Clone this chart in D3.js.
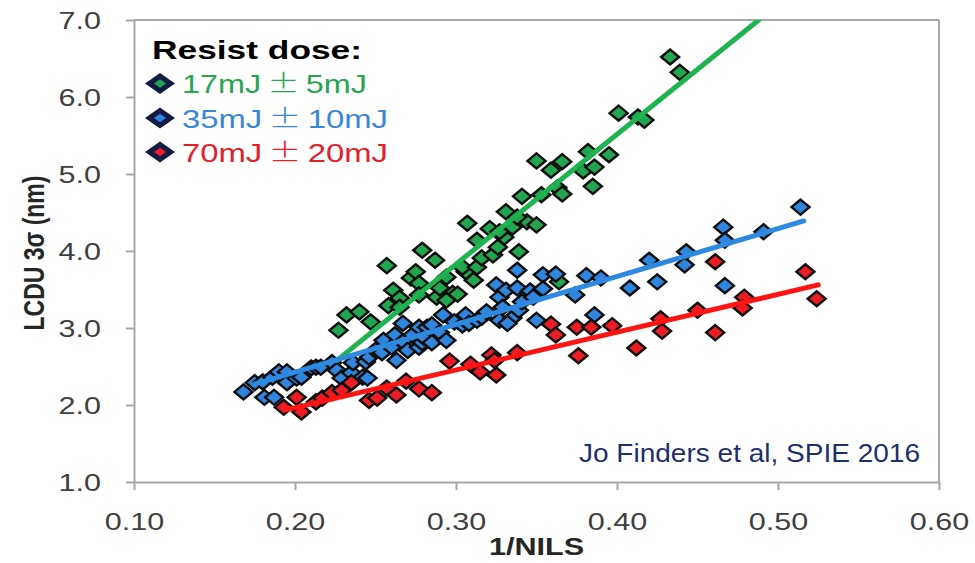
<!DOCTYPE html>
<html>
<head>
<meta charset="utf-8">
<script src="https://cdn.jsdelivr.net/npm/d3@7"></script>
<style>
  html, body { margin: 0; padding: 0; background: #fff; }
  svg { display: block; }
</style>
</head>
<body>
<svg id="chart" width="975" height="563"></svg>
<script>
// ---------- DATA ----------
const xTicks = [0.10, 0.20, 0.30, 0.40, 0.50, 0.60];
const yTicks = [1.0, 2.0, 3.0, 4.0, 5.0, 6.0, 7.0];
const seriesNames = ["17mJ", "35mJ", "70mJ"];
const seriesTols = ["5mJ", "10mJ", "20mJ"];

// [1/NILS, LCDU 3σ (nm)]
const green17 = [
  [0.227,2.97],[0.232,3.17],[0.240,3.21],[0.247,3.08],[0.257,3.81],[0.261,3.49],
  [0.265,3.39],[0.258,3.29],[0.265,3.27],[0.272,3.65],[0.279,4.01],[0.287,3.88],
  [0.275,3.73],[0.277,3.58],[0.277,3.43],[0.288,3.40],[0.290,3.52],[0.294,3.66],
  [0.298,3.45],[0.301,3.44],[0.306,3.73],[0.304,3.79],[0.313,3.79],[0.316,3.91],
  [0.323,3.95],[0.311,3.62],[0.294,3.36],[0.307,4.36],[0.313,4.14],[0.321,4.29],
  [0.326,4.05],[0.331,4.51],[0.335,4.31],[0.330,4.18],[0.339,3.99],[0.344,4.38],
  [0.350,4.34],[0.338,4.44],[0.341,4.71],[0.353,4.73],[0.363,4.82],[0.366,4.74],
  [0.350,5.17],[0.359,5.05],[0.366,5.16],[0.379,5.04],[0.382,5.29],[0.386,5.09],
  [0.385,4.84],[0.395,5.25],[0.401,5.79],[0.413,5.74],[0.417,5.70],[0.433,6.52],
  [0.439,6.32],[0.364,3.60],[0.327,4.25]
];
const blue35 = [
  [0.168,2.17],[0.175,2.29],[0.180,2.30],[0.181,2.10],[0.187,2.10],[0.186,2.36],
  [0.190,2.43],[0.195,2.43],[0.195,2.29],[0.201,2.35],[0.204,2.36],[0.210,2.48],
  [0.213,2.49],[0.216,2.49],[0.223,2.55],[0.226,2.45],[0.229,2.35],[0.235,2.42],
  [0.236,2.55],[0.242,2.36],[0.244,2.56],[0.245,2.35],[0.246,2.62],[0.250,2.71],
  [0.254,2.68],[0.255,2.84],[0.260,2.75],[0.262,2.91],[0.263,2.58],[0.267,3.06],
  [0.267,2.82],[0.270,2.71],[0.273,2.91],[0.277,3.01],[0.277,2.75],[0.279,2.81],
  [0.280,2.88],[0.282,3.01],[0.285,2.81],[0.285,3.04],[0.290,2.94],[0.292,3.17],
  [0.294,2.84],[0.299,3.08],[0.304,3.04],[0.306,3.17],[0.308,3.06],[0.313,3.10],
  [0.316,3.14],[0.319,3.21],[0.325,3.56],[0.327,3.40],[0.327,3.10],[0.329,3.27],
  [0.331,3.49],[0.335,3.13],[0.338,3.75],[0.338,3.52],[0.339,3.23],[0.341,3.34],
  [0.346,3.48],[0.348,3.40],[0.350,3.10],[0.354,3.69],[0.354,3.51],[0.362,3.70],
  [0.374,3.43],[0.381,3.68],[0.386,3.17],[0.390,3.65],[0.408,3.52],[0.420,3.88],
  [0.425,3.60],[0.442,3.82],[0.443,3.99],[0.466,4.31],[0.467,4.14],[0.467,3.55],
  [0.491,4.25],[0.514,4.57],[0.332,3.06]
];
const red70 = [
  [0.193,1.97],[0.201,2.10],[0.204,1.91],[0.213,2.04],[0.217,2.09],[0.223,2.16],
  [0.229,2.19],[0.235,2.29],[0.246,2.06],[0.251,2.09],[0.257,2.22],[0.263,2.13],
  [0.269,2.31],[0.277,2.21],[0.285,2.16],[0.296,2.57],[0.309,2.53],[0.315,2.43],
  [0.322,2.65],[0.325,2.39],[0.338,2.68],[0.359,3.05],[0.362,2.91],[0.375,3.01],
  [0.384,3.01],[0.376,2.64],[0.397,3.03],[0.412,2.74],[0.427,3.12],[0.428,2.96],
  [0.450,3.23],[0.461,3.86],[0.461,2.94],[0.479,3.40],[0.478,3.26],[0.517,3.73],
  [0.524,3.38],[0.324,2.58]
];
// linear fit lines (end points)
const greenFit = [[0.226,2.58],[0.488,7.0]];
const blueFit  = [[0.175,2.27],[0.516,4.39]];
const redFit   = [[0.195,1.94],[0.525,3.56]];

// ---------- STYLE ----------
const M = { left: 134, right: 939, top: 20, bottom: 482 };
const markerFill = ["#22a54f", "#2f86dc", "#ec1c24"];
const lineColor  = ["#1fb350", "#2e8ae0", "#ff1414"];
const textColor  = ["#27a550", "#3c86d8", "#e3202a"];
const axisGray = "#a8a8a8";
const SX = 1.33; // horizontal stretch of the reference's typography

const svg = d3.select("#chart");
const x = d3.scaleLinear().domain([0.1, 0.6]).range([M.left, M.right]);
const y = d3.scaleLinear().domain([1, 7]).range([M.bottom, M.top]);

// plot frame (top & right)
svg.append("line").attr("x1", M.left).attr("x2", M.right).attr("y1", M.top).attr("y2", M.top)
  .attr("stroke", axisGray).attr("stroke-width", 2);
svg.append("line").attr("x1", M.right).attr("x2", M.right).attr("y1", M.top).attr("y2", M.bottom)
  .attr("stroke", axisGray).attr("stroke-width", 2);

// axes
const gx = svg.append("g").attr("transform", `translate(0,${M.bottom})`)
  .call(d3.axisBottom(x).tickValues(xTicks).tickFormat(d3.format(".2f")).tickSize(8).tickSizeOuter(0));
const gy = svg.append("g").attr("transform", `translate(${M.left},0)`)
  .call(d3.axisLeft(y).tickValues(yTicks).tickFormat(d3.format(".1f")).tickSize(8).tickSizeOuter(0));
[gx, gy].forEach(g => {
  g.select(".domain").attr("stroke", axisGray).attr("stroke-width", 2);
  g.selectAll(".tick line").attr("stroke", axisGray).attr("stroke-width", 2);
  g.selectAll(".tick text").attr("fill", "#3f3f3f")
    .style("font-family", "'Liberation Sans', Arial, sans-serif").style("font-size", "23px");
});
gx.selectAll(".tick text").attr("y", 0).attr("dy", 0)
  .attr("transform", `translate(0,48) scale(${SX},1)`);
gy.selectAll(".tick text").attr("x", 0).attr("dy", "0.36em")
  .attr("transform", `translate(-33,0) scale(${SX},1)`);

// axis titles
svg.append("text").text("1/NILS")
  .attr("transform", `translate(${(M.left + M.right) / 2},555) scale(${SX},1)`)
  .attr("text-anchor", "middle").attr("fill", "#262626")
  .style("font-family", "'Liberation Sans', Arial, sans-serif").style("font-weight", "bold").style("font-size", "23px");
svg.append("text").text("LCDU 3σ (nm)")
  .attr("transform", `translate(44,253) rotate(-90) scale(1,1.3)`)
  .attr("text-anchor", "middle").attr("fill", "#262626")
  .style("font-family", "'Liberation Sans', Arial, sans-serif").style("font-weight", "bold").style("font-size", "23px");

// markers
const hw = 9, hh = 7.5;
const diamond = (w, h) => `M0,${-h}L${w},0L0,${h}L${-w},0Z`;
const allSeries = [green17, blue35, red70];
allSeries.forEach((data, i) => {
  svg.append("g").selectAll("path").data(data).join("path")
    .attr("d", diamond(hw, hh))
    .attr("transform", d => `translate(${x(d[0])},${y(d[1])})`)
    .attr("fill", markerFill[i]).attr("stroke", "#0d0d0d").attr("stroke-width", 2.4)
    .attr("stroke-linejoin", "miter");
});

// fit lines (clipped to plot)
svg.append("clipPath").attr("id", "plotclip").append("rect")
  .attr("x", M.left).attr("y", M.top).attr("width", M.right - M.left).attr("height", M.bottom - M.top);
const line = d3.line().x(d => x(d[0])).y(d => y(d[1]));
[greenFit, blueFit, redFit].forEach((f, i) => {
  svg.append("path").attr("d", line(f)).attr("clip-path", "url(#plotclip)")
    .attr("fill", "none").attr("stroke", lineColor[i]).attr("stroke-width", 5).attr("stroke-linecap", "round");
});

// legend
svg.append("text").text("Resist dose:")
  .attr("x", 152).attr("y", 59).attr("textLength", 210).attr("lengthAdjust", "spacingAndGlyphs")
  .attr("fill", "#000")
  .style("font-family", "'Liberation Sans', Arial, sans-serif").style("font-weight", "bold").style("font-size", "26px");
const legY = [83.5, 118, 152];
const legLen = [185, 206, 206];
seriesNames.forEach((name, i) => {
  const g = svg.append("g").attr("transform", `translate(160,${legY[i]})`);
  g.append("path").attr("d", diamond(15, 10.5)).attr("fill", "#131a44");
  g.append("path").attr("d", diamond(6, 4.3)).attr("fill", markerFill[i]);
  const t = svg.append("text").attr("x", 182).attr("y", legY[i] + 9.5)
    .attr("textLength", legLen[i]).attr("lengthAdjust", "spacingAndGlyphs")
    .attr("fill", textColor[i])
    .style("font-family", "'Liberation Sans', Arial, sans-serif").style("font-size", "26px");
  t.append("tspan").text(name);
  t.append("tspan").attr("dx", 5).text("±").style("font-family", "'Noto Sans CJK JP', sans-serif").style("font-weight", "300");
  t.append("tspan").attr("dx", 5).text(seriesTols[i]);
});

// citation
svg.append("text").text("Jo Finders et al, SPIE 2016")
  .attr("x", 579).attr("y", 462).attr("textLength", 341).attr("lengthAdjust", "spacingAndGlyphs")
  .attr("fill", "#1f2f6e")
  .style("font-family", "'Liberation Sans Narrow', 'Liberation Sans', Arial, sans-serif").style("font-size", "25px");
</script>
</body>
</html>
